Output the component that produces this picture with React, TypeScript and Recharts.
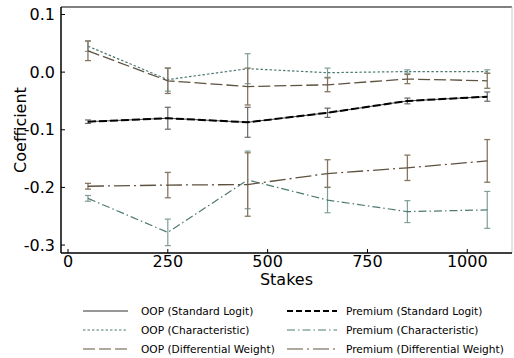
import { ComposedChart, Line, XAxis, YAxis, ErrorBar, ReferenceLine } from "recharts";

const stakes = [50, 250, 450, 650, 850, 1050];
const slCoef = [-0.086, -0.08, -0.087, -0.0705, -0.05, -0.0425];
const slErr = [0.003, 0.019, 0.026, 0.008, 0.005, 0.008];
const charCoef = [0.045, -0.013, 0.006, -0.001, 0.001, 0.001];
const charErr = [0.009, 0.02, 0.026, 0.008, 0.003, 0.003];
const dwCoef = [0.037, -0.015, -0.025, -0.022, -0.012, -0.015];
const dwErr = [0.017, 0.022, 0.032, 0.012, 0.008, 0.013];
const pCharCoef = [-0.219, -0.278, -0.187, -0.222, -0.242, -0.239];
const pCharErr = [0.005, 0.023, 0.05, 0.022, 0.019, 0.032];
const pDwCoef = [-0.198, -0.196, -0.195, -0.176, -0.166, -0.154];
const pDwErr = [0.005, 0.022, 0.055, 0.024, 0.022, 0.037];

const xTicks = [0, 250, 500, 750, 1000];
const yTicks = [-0.3, -0.2, -0.1, 0, 0.1];
const xDomain = [-17.5, 1112];
const yDomain = [-0.3138, 0.113];

const data = stakes.map((s, i) => ({
  stakes: s,
  sl: slCoef[i],
  slErr: slErr[i],
  pSl: slCoef[i],
  char: charCoef[i],
  charErr: charErr[i],
  dw: dwCoef[i],
  dwErr: dwErr[i],
  pChar: pCharCoef[i],
  pCharErr: pCharErr[i],
  pDw: pDwCoef[i],
  pDwErr: pDwErr[i],
}));

const TEAL = "#4f7a74";
const TEAL_BAR = "#7f9e99";
const BROWN = "#5e5240";
const BROWN_BAR = "#857660";
const FONT = "DejaVu Sans, sans-serif";

const legendItems = [
  { label: "OOP (Standard Logit)", stroke: "#333", width: 1, dash: undefined },
  { label: "Premium (Standard Logit)", stroke: "#000", width: 2, dash: "6 3" },
  { label: "OOP (Characteristic)", stroke: TEAL, width: 1, dash: "2.5 2" },
  { label: "Premium (Characteristic)", stroke: TEAL, width: 1, dash: "8 3 1.5 3" },
  { label: "OOP (Differential Weight)", stroke: BROWN, width: 1.2, dash: "12 4" },
  { label: "Premium (Differential Weight)", stroke: BROWN, width: 1.2, dash: "16 4 2 4" },
];

function LegendBox() {
  return (
    <div style={{ position: "absolute", left: 0, top: 302, width: 514, fontFamily: FONT, fontSize: 10.6, color: "#000" }}>
      {legendItems.map((it, i) => {
        const col = i % 2;
        const row = Math.floor(i / 2);
        const lineX = col === 0 ? 83 : 287;
        const lineW = col === 0 ? 45 : 50;
        const textX = col === 0 ? 141 : 346;
        return (
          <div key={it.label} style={{ position: "absolute", top: row * 19, left: 0 }}>
            <svg width={lineW} height={18} style={{ position: "absolute", left: lineX, top: 0 }}>
              <line x1={0} y1={9} x2={lineW} y2={9} stroke={it.stroke} strokeWidth={it.width} strokeDasharray={it.dash} />
            </svg>
            <span style={{ position: "absolute", left: textX, top: 1, whiteSpace: "nowrap", lineHeight: "16px" }}>{it.label}</span>
          </div>
        );
      })}
    </div>
  );
}

export default function App() {
  return (
    <div style={{ position: "absolute", left: 0, top: 0, width: 514, height: 358, background: "#fff", fontFamily: FONT }}>
      <ComposedChart width={514} height={295} data={data} margin={{ top: 7, right: 2, bottom: 10, left: 0 }}>
        <XAxis
          dataKey="stakes"
          type="number"
          domain={xDomain}
          ticks={xTicks}
          allowDataOverflow
          height={32}
          tickSize={-4}
          tickMargin={7}
          stroke="#000"
          axisLine={{ stroke: "#000", strokeWidth: 1.5 }}
          tick={{ fill: "#000", fontSize: 16, fontFamily: FONT }}
          label={{ value: "Stakes", position: "insideBottom", offset: 0, fill: "#000", fontSize: 16, fontFamily: FONT }}
        />
        <YAxis
          type="number"
          domain={yDomain}
          ticks={yTicks}
          allowDataOverflow
          width={61}
          tickSize={-4}
          tickMargin={10}
          stroke="#000"
          axisLine={{ stroke: "#000", strokeWidth: 1.5 }}
          tickFormatter={(v: number) => (Math.abs(v) < 1e-9 ? "0.0" : v.toFixed(1))}
          tick={{ fill: "#000", fontSize: 16, fontFamily: FONT }}
          label={{ value: "Coefficient", angle: -90, position: "center", dx: -10, fill: "#000", fontSize: 16, fontFamily: FONT }}
        />
        {/* top and right frame */}
        <ReferenceLine y={yDomain[1]} stroke="#808080" strokeWidth={2} ifOverflow="visible" />
        <ReferenceLine x={xDomain[1]} stroke="#c8c8c8" strokeWidth={1} ifOverflow="visible" />

        <Line dataKey="char" stroke={TEAL} strokeWidth={1.2} strokeDasharray="2.5 2" dot={false} activeDot={false} isAnimationActive={false}>
          <ErrorBar dataKey="charErr" width={3} stroke={TEAL_BAR} strokeWidth={1.2} direction="y" isAnimationActive={false} />
        </Line>
        <Line dataKey="dw" stroke={BROWN} strokeWidth={1.3} strokeDasharray="12 4" dot={false} activeDot={false} isAnimationActive={false}>
          <ErrorBar dataKey="dwErr" width={3} stroke={BROWN_BAR} strokeWidth={1.3} direction="y" isAnimationActive={false} />
        </Line>
        <Line dataKey="pChar" stroke={TEAL} strokeWidth={1.2} strokeDasharray="8 3 1.5 3" dot={false} activeDot={false} isAnimationActive={false}>
          <ErrorBar dataKey="pCharErr" width={3} stroke={TEAL_BAR} strokeWidth={1.2} direction="y" isAnimationActive={false} />
        </Line>
        <Line dataKey="pDw" stroke={BROWN} strokeWidth={1.3} strokeDasharray="16 4 2 4" dot={false} activeDot={false} isAnimationActive={false}>
          <ErrorBar dataKey="pDwErr" width={3} stroke={BROWN_BAR} strokeWidth={1.3} direction="y" isAnimationActive={false} />
        </Line>
        <Line dataKey="sl" stroke="#444" strokeWidth={1} dot={false} activeDot={false} isAnimationActive={false}>
          <ErrorBar dataKey="slErr" width={3} stroke="#666" strokeWidth={1.2} direction="y" isAnimationActive={false} />
        </Line>
        <Line dataKey="pSl" stroke="#000" strokeWidth={2} strokeDasharray="8 3" dot={false} activeDot={false} isAnimationActive={false} />
      </ComposedChart>
      <LegendBox />
    </div>
  );
}
